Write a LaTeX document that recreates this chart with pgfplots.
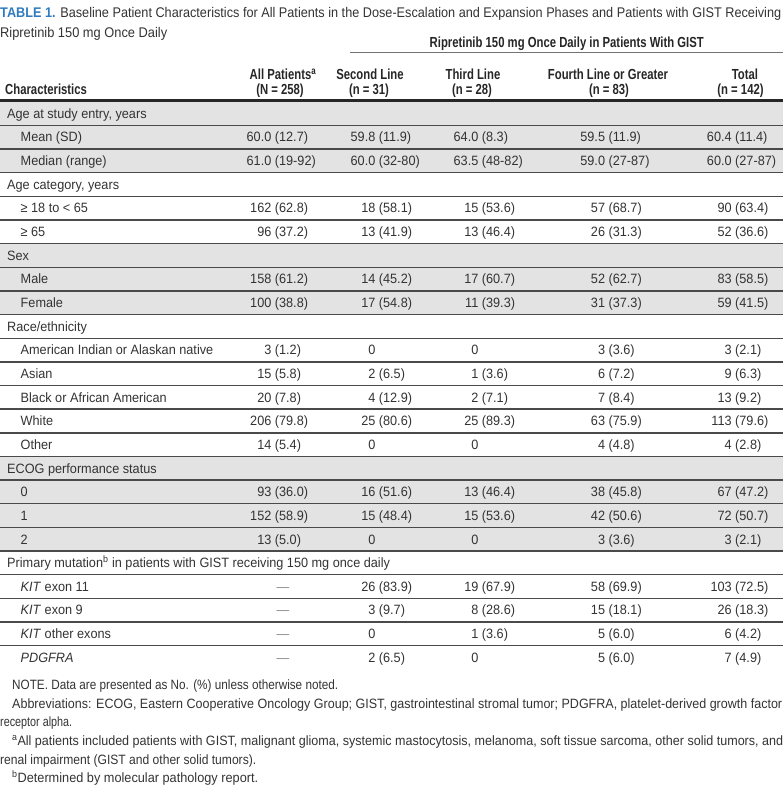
\documentclass[border=0pt]{standalone}
\usepackage{fontspec}
\setmainfont{Liberation Sans}
\newfontfamily\bodyfont{Liberation Sans}[FakeStretch=0.94]
\newfontfamily\hdrfont{Liberation Sans}[FakeStretch=0.775]
\usepackage{graphicx}
\usepackage{pgfplots}
\usepackage{pgfplotstable}
\pgfplotsset{compat=1.18}
\definecolor{band}{HTML}{E3E3E3}
\definecolor{rulec}{HTML}{4A4A4A}
\definecolor{tblue}{HTML}{2F7BBF}
\definecolor{txt}{HTML}{333333}
\def\splitcell#1 #2\relax{\llap{#1\ }\rlap{#2}}
\newcommand\cellfmt[1]{\splitcell#1{} \relax}

\pgfplotstableread[col sep=semicolon]{
row;lvl;label
0;0;Age at study entry, years
1;1;Mean (SD)
2;1;Median (range)
3;0;Age category, years
4;1;≥ 18 to < 65
5;1;≥ 65
6;0;Sex
7;1;Male
8;1;Female
9;0;Race/ethnicity
10;1;American Indian or Alaskan native
11;1;Asian
12;1;Black or African American
13;1;White
14;1;Other
15;0;ECOG performance status
16;1;0
17;1;1
18;1;2
19;0;Primary mutation\textsuperscript{b} in patients with GIST receiving 150 mg once daily
20;1;\textit{KIT} exon 11
21;1;\textit{KIT} exon 9
22;1;\textit{KIT} other exons
23;1;\textit{PDGFRA}
}\labels

\pgfplotstableread[col sep=semicolon]{
row;cell
1;60.0 (12.7)
2;61.0 (19-92)
4;162 (62.8)
5;96 (37.2)
7;158 (61.2)
8;100 (38.8)
10;3 (1.2)
11;15 (5.8)
12;20 (7.8)
13;206 (79.8)
14;14 (5.4)
16;93 (36.0)
17;152 (58.9)
18;13 (5.0)
}\colA

\pgfplotstableread[col sep=semicolon]{
row;cell
20;—
21;—
22;—
23;—
}\colAdash

\pgfplotstableread[col sep=semicolon]{
row;cell
1;59.8 (11.9)
2;60.0 (32-80)
4;18 (58.1)
5;13 (41.9)
7;14 (45.2)
8;17 (54.8)
10;0
11;2 (6.5)
12;4 (12.9)
13;25 (80.6)
14;0
16;16 (51.6)
17;15 (48.4)
18;0
20;26 (83.9)
21;3 (9.7)
22;0
23;2 (6.5)
}\colB

\pgfplotstableread[col sep=semicolon]{
row;cell
1;64.0 (8.3)
2;63.5 (48-82)
4;15 (53.6)
5;13 (46.4)
7;17 (60.7)
8;11 (39.3)
10;0
11;1 (3.6)
12;2 (7.1)
13;25 (89.3)
14;0
16;13 (46.4)
17;15 (53.6)
18;0
20;19 (67.9)
21;8 (28.6)
22;1 (3.6)
23;0
}\colC

\pgfplotstableread[col sep=semicolon]{
row;cell
1;59.5 (11.9)
2;59.0 (27-87)
4;57 (68.7)
5;26 (31.3)
7;52 (62.7)
8;31 (37.3)
10;3 (3.6)
11;6 (7.2)
12;7 (8.4)
13;63 (75.9)
14;4 (4.8)
16;38 (45.8)
17;42 (50.6)
18;3 (3.6)
20;58 (69.9)
21;15 (18.1)
22;5 (6.0)
23;5 (6.0)
}\colD

\pgfplotstableread[col sep=semicolon]{
row;cell
1;60.4 (11.4)
2;60.0 (27-87)
4;90 (63.4)
5;52 (36.6)
7;83 (58.5)
8;59 (41.5)
10;3 (2.1)
11;9 (6.3)
12;13 (9.2)
13;113 (79.6)
14;4 (2.8)
16;67 (47.2)
17;72 (50.7)
18;3 (2.1)
20;103 (72.5)
21;26 (18.3)
22;6 (4.2)
23;7 (4.9)
}\colE

\tikzset{
  hdr/.style={inner sep=0pt, text=black!85, font=\hdrfont\bfseries\fontsize{14.6bp}{16bp}\selectfont},
  ttl/.style={inner sep=0pt, anchor=base west, text=txt, font=\fontsize{14bp}{16bp}\selectfont},
  fn/.style={inner sep=0pt, anchor=base west, text=txt, font=\fontsize{13.5bp}{15bp}\selectfont},
}
\pgfplotsset{
  cellplot/.style={draw=none, mark=none, point meta=explicit symbolic,
    nodes near coords={\expandafter\cellfmt\expandafter{\pgfplotspointmeta}},
    every node near coord/.append style={anchor=base, inner sep=0pt, text=txt,
      font=\bodyfont\fontsize{13.5bp}{16bp}\selectfont}},
}

\begin{document}
\begin{tikzpicture}
\useasboundingbox (0,0) rectangle (783bp,789bp);
\begin{axis}[at={(0,0)}, anchor=south west, scale only axis,
  width=783bp, height=789bp, xmin=0, xmax=783, ymin=0, ymax=789,
  y dir=reverse, axis lines=none, ticks=none, clip=false]
% row bands
\fill[band] (axis cs:0,101.7) rectangle (axis cs:783,172.65);
\fill[band] (axis cs:0,243.6) rectangle (axis cs:783,314.55);
\fill[band] (axis cs:0,456.45) rectangle (axis cs:783,551.05);
% row rules
\pgfplotsinvokeforeach{1,...,23}{
  \draw[rulec, line width=1.4bp] (axis cs:0,{101.7+23.65*#1}) -- (axis cs:783,{101.7+23.65*#1});
}
\draw[black!85, line width=2.6bp] (axis cs:0,100.3) -- (axis cs:783,100.3);
\draw[black!55, line width=1.2bp] (axis cs:350,52.5) -- (axis cs:783,52.5);
% title
\node[ttl] at (axis cs:0,17.5) {\resizebox{781bp}{\height}{{\bfseries\color{tblue}TABLE 1.} Baseline Patient Characteristics for All Patients in the Dose-Escalation and Expansion Phases and Patients with GIST Receiving}};
\node[ttl] at (axis cs:0,37.5) {\resizebox{167bp}{\height}{Ripretinib 150 mg Once Daily}};
% headers
\node[hdr, anchor=base] at (axis cs:566.75,48) {Ripretinib 150 mg Once Daily in Patients With GIST};
\node[hdr, anchor=base west] at (axis cs:5,94.5) {Characteristics};
\node[hdr, anchor=base] at (axis cs:283,79.5) {All Patients\textsuperscript{a}};
\node[hdr, anchor=base] at (axis cs:280,94.5) {(N = 258)};
\node[hdr, anchor=base] at (axis cs:370,79.5) {Second Line};
\node[hdr, anchor=base] at (axis cs:369,94.5) {(n = 31)};
\node[hdr, anchor=base] at (axis cs:473,79.5) {Third Line};
\node[hdr, anchor=base] at (axis cs:472,94.5) {(n = 28)};
\node[hdr, anchor=base] at (axis cs:608,79.5) {Fourth Line or Greater};
\node[hdr, anchor=base] at (axis cs:609,94.5) {(n = 83)};
\node[hdr, anchor=base] at (axis cs:745,79.5) {Total};
\node[hdr, anchor=base] at (axis cs:740.5,94.5) {(n = 142)};
% row labels
\addplot[draw=none, mark=none, point meta=explicit symbolic,
  nodes near coords={\pgfplotspointmeta},
  every node near coord/.append style={anchor=base west, inner sep=0pt, text=txt,
    font=\bodyfont\fontsize{13.5bp}{16bp}\selectfont}]
  table[x expr={7+13.5*\thisrow{lvl}}, y expr={101.7+23.65*(\thisrow{row}+0.5)+4.8}, meta=label] {\labels};
% value columns
\addplot[cellplot] table[x expr=274.9, y expr={101.7+23.65*(\thisrow{row}+0.5)+4.8}, meta=cell] {\colA};
\addplot[draw=none, mark=none, point meta=explicit symbolic,
  nodes near coords={\pgfplotspointmeta},
  every node near coord/.append style={anchor=base, inner sep=0pt, text=black!45,
    font=\bodyfont\fontsize{13.5bp}{16bp}\selectfont}]
  table[x expr=283, y expr={101.7+23.65*(\thisrow{row}+0.5)+4.8}, meta=cell] {\colAdash};
\addplot[cellplot] table[x expr=378.9, y expr={101.7+23.65*(\thisrow{row}+0.5)+4.8}, meta=cell] {\colB};
\addplot[cellplot] table[x expr=481.9, y expr={101.7+23.65*(\thisrow{row}+0.5)+4.8}, meta=cell] {\colC};
\addplot[cellplot] table[x expr=608.6, y expr={101.7+23.65*(\thisrow{row}+0.5)+4.8}, meta=cell] {\colD};
\addplot[cellplot] table[x expr=735.2, y expr={101.7+23.65*(\thisrow{row}+0.5)+4.8}, meta=cell] {\colE};
% footnotes
\node[fn] at (axis cs:12,689) {\resizebox{326bp}{\height}{NOTE. Data are presented as No. (\%) unless otherwise noted.}};
\node[fn] at (axis cs:12,708) {\resizebox{770bp}{\height}{Abbreviations: ECOG, Eastern Cooperative Oncology Group; GIST, gastrointestinal stromal tumor; PDGFRA, platelet-derived growth factor}};
\node[fn] at (axis cs:0,726.5) {\resizebox{72bp}{\height}{receptor alpha.}};
\node[fn] at (axis cs:12,745.5) {\resizebox{771bp}{\height}{\textsuperscript{a}All patients included patients with GIST, malignant glioma, systemic mastocytosis, melanoma, soft tissue sarcoma, other solid tumors, and}};
\node[fn] at (axis cs:0,764) {\resizebox{256bp}{\height}{renal impairment (GIST and other solid tumors).}};
\node[fn] at (axis cs:12,782.5) {\resizebox{246bp}{\height}{\textsuperscript{b}Determined by molecular pathology report.}};
\end{axis}
\end{tikzpicture}
\end{document}
